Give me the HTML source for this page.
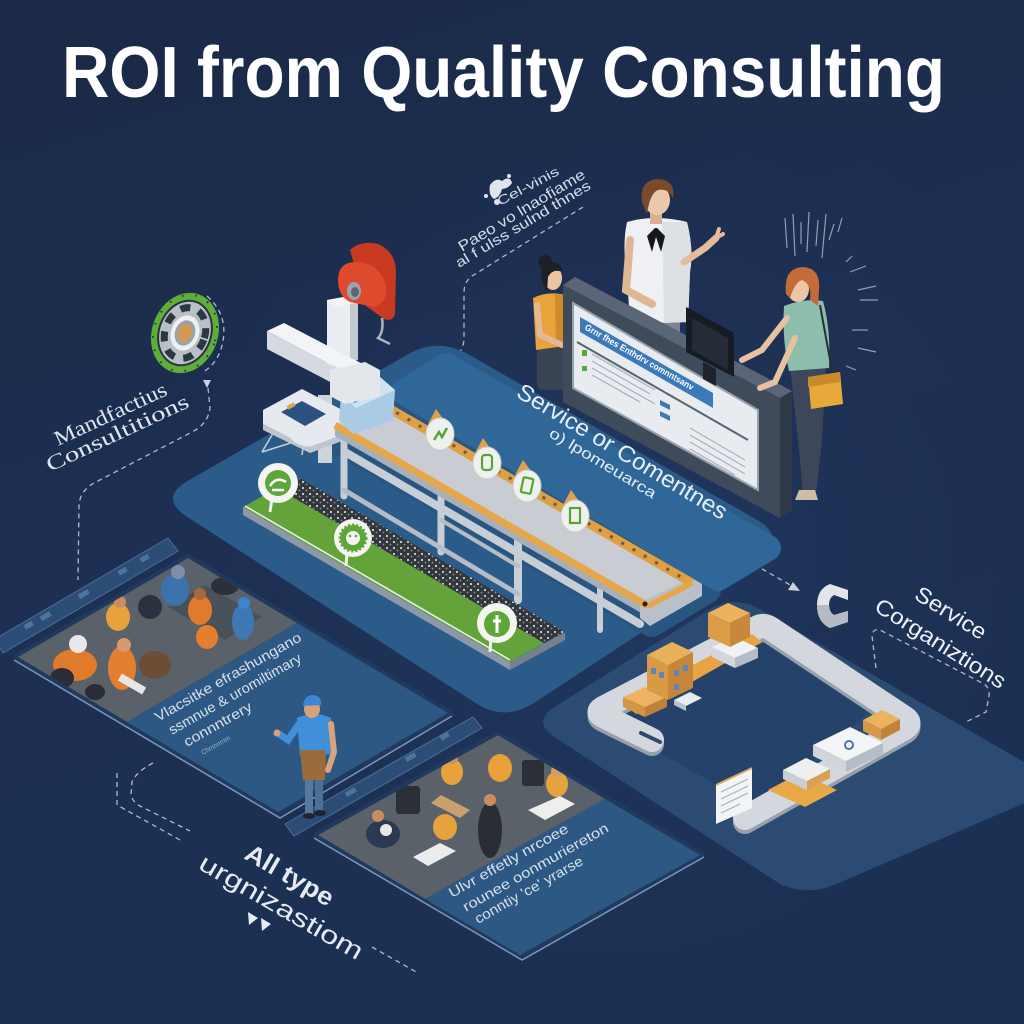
<!DOCTYPE html>
<html><head><meta charset="utf-8">
<style>html,body{margin:0;padding:0;background:#1b2b4a;}svg{display:block;}</style>
</head><body>
<svg xmlns="http://www.w3.org/2000/svg" width="1024" height="1024" viewBox="0 0 1024 1024" font-family="Liberation Sans, sans-serif">
<defs>
<linearGradient id="bg" x1="0" y1="0" x2="0.3" y2="1">
<stop offset="0" stop-color="#1a2946"/><stop offset="0.5" stop-color="#1d2f52"/><stop offset="1" stop-color="#1c3053"/>
</linearGradient>
<radialGradient id="glow" cx="0.6" cy="0.55" r="0.6"><stop offset="0" stop-color="#254270" stop-opacity="0.45"/><stop offset="1" stop-color="#1b2b4a" stop-opacity="0"/></radialGradient>
<pattern id="peb" width="7" height="6" patternUnits="userSpaceOnUse"><rect width="7" height="6" fill="#33363b"/><circle cx="2" cy="2" r="1.1" fill="#cfd3d7"/><circle cx="5.5" cy="4.5" r="0.9" fill="#8e949a"/></pattern>
<clipPath id="ph1"><polygon points="188,558 297,623 127,722 18,657"/></clipPath>
<clipPath id="ph2"><polygon points="498,735 605,799 425,899 318,835"/></clipPath>
</defs>
<rect width="1024" height="1024" fill="url(#bg)"/>
<rect width="1024" height="1024" fill="url(#glow)"/>

<!-- Title -->
<text x="62" y="97" font-size="72" font-weight="bold" fill="#ffffff" textLength="883" lengthAdjust="spacingAndGlyphs">ROI from Quality Consulting</text>

<!-- background dashed connectors -->
<g fill="none" stroke="#c9d2de" stroke-width="1.3" stroke-dasharray="5 4" opacity="0.85">
 <path d="M583,207 L472,276 Q464,282 464,292 L464,338 Q464,350 454,358 L418,392"/>
 <path d="M207,296 Q232,318 220,352 Q214,366 203,372"/>
 <path d="M208,388 L210,408 Q208,424 192,432 L96,482 Q80,490 79,505 L78,580"/>
 <path d="M715,542 L792,586"/>
 <path d="M876,668 L872,636 Q873,627 882,631 L984,684 Q990,688 989,696 L986,712 L966,722"/>
 <path d="M153,763 Q136,772 132,782 L131,795 Q133,803 142,807 L190,831"/>
 <path d="M117,773 L117,805 L180,840"/>
 <path d="M372,947 L418,973"/>
</g>
<polygon points="800,591 788,590 793,582" fill="#c9d2de"/>
<polygon points="203,380 211,380 207,388" fill="#c9d2de"/>

<!-- splash lines -->
<g stroke="#b9c4d2" stroke-width="1.2" opacity="0.75">
 <line x1="785" y1="218" x2="787" y2="248"/><line x1="793" y1="214" x2="795" y2="256"/>
 <line x1="801" y1="222" x2="801" y2="244"/><line x1="809" y1="212" x2="807" y2="252"/>
 <line x1="818" y1="220" x2="816" y2="246"/><line x1="826" y1="214" x2="822" y2="258"/>
 <line x1="834" y1="224" x2="829" y2="240"/><line x1="842" y1="218" x2="838" y2="232"/>
 <line x1="846" y1="262" x2="852" y2="256"/><line x1="850" y1="272" x2="866" y2="266"/>
 <line x1="858" y1="290" x2="876" y2="286"/><line x1="860" y1="300" x2="878" y2="300"/>
 <line x1="852" y1="330" x2="868" y2="330"/><line x1="858" y1="348" x2="876" y2="352"/>
 <line x1="846" y1="366" x2="856" y2="370"/>
</g>

<!-- top-center annotation -->
<g fill="#dfe5ee"><path d="M490,185 q6,-8 12,-4 q8,-6 10,2 q-4,6 -10,6 q-2,8 -8,10 q-6,-4 -4,-14z"/><circle cx="497" cy="202" r="3"/><circle cx="486" cy="196" r="2"/><circle cx="509" cy="176" r="2"/></g>
<g fill="#d5dde8">
<text transform="translate(500,206) rotate(-28)" font-size="13" textLength="68" lengthAdjust="spacingAndGlyphs">Cel-vinis</text>
<text transform="translate(462,252) rotate(-31)" font-size="15" textLength="145" lengthAdjust="spacingAndGlyphs">Paeo vo lnaofiame</text>
<text transform="translate(459,268) rotate(-31)" font-size="14" textLength="155" lengthAdjust="spacingAndGlyphs">al f ulss sulnd thnes</text>
</g>

<!-- gear icon -->
<g transform="rotate(20 185 333)">
 <ellipse cx="185" cy="333" rx="33" ry="41" fill="#5fae3a"/>
 <ellipse cx="185" cy="333" rx="31" ry="39" fill="none" stroke="#25303d" stroke-width="2" stroke-dasharray="1.5 12"/>
 <ellipse cx="185" cy="333" rx="27" ry="34" fill="#2a3340"/>
 <ellipse cx="185" cy="333" rx="25" ry="32" fill="#b9c0c8"/>
 <ellipse cx="185" cy="333" rx="20" ry="26" fill="none" stroke="#2e3744" stroke-width="7" stroke-dasharray="10 9"/>
 <ellipse cx="185" cy="333" rx="14" ry="18" fill="#eef0f3"/>
 <ellipse cx="185" cy="333" rx="10" ry="13" fill="#9aa3ad"/>
 <ellipse cx="185" cy="333" rx="7" ry="9" fill="#d49a55"/>
</g>
<g fill="#dfe5ee" font-family="Liberation Serif, serif">
<text transform="translate(58,446) rotate(-25)" font-size="21" textLength="122" lengthAdjust="spacingAndGlyphs">Mandfactius</text>
<text transform="translate(50,472) rotate(-25)" font-size="21" textLength="155" lengthAdjust="spacingAndGlyphs">Consultitions</text>
</g>

<!-- top platform -->
<path d="M188.3,480.6 L407.7,354.4 Q438,337 468.4,354.4 L756.6,519.6 Q787,537 757.7,556.2 L534.3,702.8 Q505,722 475.6,703 L187.4,517 Q158,498 188.3,480.6 Z" fill="#2b5c89"/>
<polygon points="335,440 392,408 708,590 652,624" fill="#285681" stroke="#285681" stroke-width="26" stroke-linejoin="round"/>
<polygon points="404,392 446,366 768,548 718,578" fill="#2f6898" stroke="#2f6898" stroke-width="26" stroke-linejoin="round"/>

<!-- service text on platform -->
<g fill="#e8eef5">
<text transform="translate(515,396) rotate(31)" font-size="23" textLength="241" lengthAdjust="spacingAndGlyphs">Service or Comentnes</text>
<text transform="translate(548,436) rotate(31)" font-size="15" textLength="122" lengthAdjust="spacingAndGlyphs">o) lpomeuarca</text>
</g>

<!-- green strip -->
<polygon points="243,507 510,662 510,670 243,515" fill="#8d98a6"/>
<polygon points="510,662 565,632 565,640 510,670" fill="#76808e"/>
<polygon points="243,507 510,662 544,643 277,488" fill="#63a33a"/>
<polygon points="277,488 544,643 565,632 298,477" fill="url(#peb)"/>
<line x1="245" y1="506" x2="510" y2="660" stroke="#eef3e6" stroke-width="1.5"/>

<!-- machine lower parts -->
<rect x="318" y="395" width="14" height="68" fill="#cfd4db"/>
<g stroke="#c8cfd8" stroke-width="1.5" fill="none"><line x1="275" y1="430" x2="262" y2="452"/><line x1="262" y1="452" x2="300" y2="440"/><line x1="305" y1="432" x2="302" y2="455"/></g>
<path d="M263,410 L302,389 L350,414 L350,432 L310,447 Q296,446 290,438 L263,424 Z" fill="#e6e9ee"/>
<path d="M263,424 L290,438 Q296,446 310,447 L350,432 L350,438 L310,453 L263,430Z" fill="#bfc6cf"/>
<polygon points="281,412 302,401 326,414 305,426" fill="#2b5180"/>
<rect x="287" y="404" width="8" height="4" fill="#d9a54b" transform="rotate(-28 291 406)"/>

<!-- conveyor frame -->
<g stroke="#c8ced6" stroke-linecap="round">
 <line x1="344" y1="430" x2="344" y2="496" stroke-width="7"/>
 <line x1="441" y1="486" x2="441" y2="552" stroke-width="7"/>
 <line x1="518" y1="532" x2="518" y2="600" stroke-width="8"/>
 <line x1="600" y1="580" x2="600" y2="630" stroke-width="6"/>
 <line x1="345" y1="452" x2="640" y2="624" stroke-width="8"/>
 <line x1="344" y1="490" x2="518" y2="594" stroke-width="5" stroke="#b5bcc6"/>
 <line x1="441" y1="520" x2="518" y2="566" stroke-width="4" stroke="#b5bcc6"/>
</g>
<!-- belt -->
<polygon points="335,425 648,606 648,617 335,436" fill="#a7afba"/>
<polygon points="335,425 648,606 692,583 378,402" fill="#c9cdd3"/>
<polygon points="640,602 692,578 702,584 702,596 650,626 640,618" fill="#b9c0c9"/>
<line x1="335" y1="425" x2="648" y2="606" stroke="#e6a64a" stroke-width="7"/>
<line x1="378" y1="402" x2="692" y2="583" stroke="#dea043" stroke-width="9"/>
<line x1="385" y1="406" x2="688" y2="581" stroke="#6b5a42" stroke-width="3" stroke-dasharray="3 10"/>
<line x1="648" y1="606" x2="692" y2="583" stroke="#e6a64a" stroke-width="6"/>
<circle cx="645" cy="604" r="2.5" fill="#222"/>

<!-- machine upper parts -->
<polygon points="341,395 380,377 395,390 393,420 353,434 339,420" fill="#a9cbe3"/>
<polygon points="341,395 380,377 395,390 356,408" fill="#cfe2f0"/>
<polygon points="350,398 372,388 376,393 354,403" fill="#34608f"/>
<polygon points="327,300 350,296 350,362 327,366" fill="#e9ecf0"/>
<polygon points="350,296 358,300 358,360 350,362" fill="#c3c9d1"/>
<polygon points="327,300 365,293 372,300 334,307" fill="#f3f5f7"/>
<polygon points="267,331 284,323 378,372 361,381" fill="#f2f4f6"/>
<polygon points="267,331 361,381 361,398 267,349" fill="#d5dae1"/>
<polygon points="330,370 365,362 380,370 380,396 345,404 330,396" fill="#e3e7ec"/>
<!-- red horn -->
<path d="M350,250 Q360,240 378,244 Q396,252 396,272 L395,314 Q393,322 384,319 L366,306 Z" fill="#c93a22"/>
<path d="M338,280 Q338,262 356,262 Q378,262 386,285 Q388,303 374,307 L350,302 Q338,296 338,280Z" fill="#e04a2c"/>
<ellipse cx="354" cy="291" rx="7" ry="9" fill="#9aa4ae"/>
<ellipse cx="355" cy="292" rx="4" ry="5" fill="#5d6670"/>
<path d="M382,318 Q384,332 378,338 L390,344" stroke="#aab2bd" stroke-width="2.5" fill="none"/>

<!-- conveyor bubbles -->
<g>
 <polygon points="428,424 436,409 444,420" fill="#e2a04c"/><ellipse cx="440" cy="434" rx="14" ry="16" fill="#eff1ee" stroke="#c9ccc8"/>
 <path d="M434,440 L439,432 L442,437 L447,428" stroke="#58a336" stroke-width="2.5" fill="none"/>
 <polygon points="475,453 483,438 491,449" fill="#e2a04c"/><ellipse cx="487" cy="463" rx="14" ry="16" fill="#eff1ee" stroke="#c9ccc8"/>
 <rect x="482" y="455" width="10" height="15" rx="3" fill="none" stroke="#58a336" stroke-width="2.2"/>
 <polygon points="515,475 523,460 531,471" fill="#e2a04c"/><ellipse cx="527" cy="486" rx="14" ry="16" fill="#eff1ee" stroke="#c9ccc8"/>
 <rect x="522" y="478" width="10" height="15" rx="1" fill="none" stroke="#58a336" stroke-width="2.2" transform="rotate(12 527 486)"/>
 <polygon points="563,505 571,490 579,501" fill="#e2a04c"/><ellipse cx="575" cy="516" rx="14" ry="16" fill="#eff1ee" stroke="#c9ccc8"/>
 <rect x="570" y="508" width="10" height="15" fill="none" stroke="#58a336" stroke-width="2.2"/>
</g>
<!-- green strip bubbles -->
<g>
 <line x1="272" y1="498" x2="270" y2="512" stroke="#f2f4f2" stroke-width="3"/>
 <circle cx="278" cy="483" r="20" fill="#f4f5f3"/>
 <circle cx="278" cy="483" r="13" fill="#5ca63a"/><path d="M270,486 Q276,476 286,482 M272,490 L284,490" stroke="#fff" stroke-width="2.5" fill="none"/>
 <line x1="347" y1="553" x2="346" y2="566" stroke="#f2f4f2" stroke-width="3"/>
 <circle cx="353" cy="538" r="19" fill="#f4f5f3"/>
 <circle cx="353" cy="538" r="13" fill="#5ca63a" stroke="#5ca63a" stroke-width="3" stroke-dasharray="2 2"/>
 <circle cx="353" cy="538" r="7" fill="#f4f5f3"/><circle cx="350" cy="536" r="1.3" fill="#5ca63a"/><circle cx="356" cy="536" r="1.3" fill="#5ca63a"/>
 <line x1="491" y1="638" x2="490" y2="652" stroke="#f2f4f2" stroke-width="3"/>
 <circle cx="497" cy="623" r="20" fill="#f4f5f3"/>
 <circle cx="497" cy="624" r="13" fill="#5ca63a"/><path d="M497,615 L497,633 M493,621 L501,621" stroke="#fff" stroke-width="3"/>
</g>

<!-- people behind kiosk -->
<g>
<path d="M664,318 L680,318 L680,335 L664,335Z" fill="#7d838c"/>
<path d="M627,222 Q655,214 687,222 Q694,250 690,272 L688,322 L630,324 L627,275 Q622,245 627,222Z" fill="#eef0f3"/>
<path d="M662,222 L687,222 Q694,250 690,272 L688,322 L664,323Z" fill="#dde1e6"/>
<rect x="650" y="208" width="12" height="16" fill="#d9b090"/>
<ellipse cx="657" cy="200" rx="13" ry="15" fill="#ecc8aa"/>
<path d="M642,202 Q639,180 658,179 Q676,180 673,198 Q668,188 658,190 Q650,193 647,214 Z" fill="#7b4a2b"/>
<path d="M655,228 L647,236 L652,252 L656,237 L661,252 L665,236 L657,228Z" fill="#15171c"/>
<path d="M684,262 L705,248 L716,238" stroke="#e5bd9c" stroke-width="7" fill="none" stroke-linecap="round"/>
<path d="M716,238 L719,229 M716,238 L723,234" stroke="#e5bd9c" stroke-width="4" stroke-linecap="round"/>
<path d="M630,240 L626,290 L652,304" stroke="#e0b796" stroke-width="8" fill="none" stroke-linecap="round"/>
</g>
<g>
<rect x="537" y="340" width="32" height="50" rx="6" fill="#3b4454"/>
<path d="M533,298 Q550,290 568,296 L572,345 L536,350Z" fill="#e9a33c"/>
<path d="M555,294 L568,296 L572,345 L556,347Z" fill="#d08a2c"/>
<ellipse cx="553" cy="278" rx="9" ry="12" fill="#ebc4a4"/>
<path d="M543,284 Q537,262 552,262 Q563,263 562,272 Q553,268 548,277 L547,292Z" fill="#1e2028"/>
<circle cx="545" cy="262" r="7" fill="#1e2028"/>
<path d="M537,305 L540,335 L562,345" stroke="#e3b895" stroke-width="6" fill="none" stroke-linecap="round"/>
</g>

<!-- kiosk -->
<polygon points="563,285 575,277 792,391 792,510 780,518 563,402" fill="#2f3847"/>
<polygon points="563,285 575,277 792,391 780,398" fill="#5a6577"/>
<polygon points="563,285 780,398 780,518 563,402" fill="#3f4a5b"/>
<polygon points="573,303 758,410 758,490 573,388" fill="#e8ecf0" stroke="#98a2ae" stroke-width="2"/>
<polygon points="580,317 713,393 713,408 580,332" fill="#3b79b8"/>
<text transform="translate(584,329) rotate(29.7)" font-size="9" font-weight="bold" fill="#ffffff" textLength="124" lengthAdjust="spacingAndGlyphs">Grnr fhes Enthdrv comnntsanv</text>
<line x1="577" y1="342" x2="748" y2="440" stroke="#5a626e" stroke-width="2"/>
<g stroke="#a9b0b9" stroke-width="1.2">
 <line x1="592" y1="354" x2="655" y2="390"/><line x1="592" y1="361" x2="650" y2="394"/>
 <line x1="592" y1="368" x2="655" y2="404"/><line x1="592" y1="375" x2="640" y2="402"/>
 <line x1="690" y1="428" x2="745" y2="460"/><line x1="690" y1="435" x2="745" y2="467"/>
 <line x1="690" y1="442" x2="745" y2="474"/><line x1="690" y1="449" x2="735" y2="475"/>
</g>
<rect x="582" y="350" width="5" height="6" fill="#5ca63a"/>
<rect x="582" y="366" width="5" height="5" fill="#5ca63a"/>
<polygon points="660,400 670,405 670,410 660,405" fill="#3b79b8"/>
<polygon points="660,411 670,416 670,421 660,416" fill="#3b79b8"/>
<polygon points="686,307 734,333 734,377 686,352" fill="#171b24"/>
<polygon points="692,318 728,338 728,370 692,350" fill="#252b37"/>
<polygon points="703,362 716,369 716,386 703,379" fill="#1d222c"/>

<!-- teal woman -->
<g>
<path d="M790,366 L826,364 L822,440 L816,492 L803,493 L798,440Z" fill="#3d4759"/>
<path d="M799,490 L815,490 L818,500 L795,500Z" fill="#cdbda6"/>
<path d="M784,306 Q805,298 823,301 Q831,330 829,368 L789,371 Q782,340 784,306Z" fill="#8dbdab"/>
<ellipse cx="798" cy="289" rx="11" ry="13" fill="#ecc6a6"/>
<path d="M786,294 Q783,268 803,267 Q821,268 819,290 L818,306 L810,300 Q812,284 802,280 Q795,282 790,298Z" fill="#c46b3b"/>
<path d="M787,318 L762,350 L742,360" stroke="#e8c1a0" stroke-width="6" fill="none" stroke-linecap="round"/>
<path d="M795,338 L775,382 L760,388" stroke="#e8c1a0" stroke-width="6" fill="none" stroke-linecap="round"/>
<line x1="820" y1="305" x2="833" y2="376" stroke="#2a2d33" stroke-width="2"/>
<polygon points="808,377 840,372 843,404 811,409" fill="#e9a93a"/>
<polygon points="808,377 840,372 840,382 808,387" fill="#c88a2b"/>
</g>

<!-- bottom-right platform -->
<path d="M556,706 L707,611 Q733,594 759,609 L1050,777 L1050,792 L834,885 Q807,896 780,884 L556,738 Q530,722 556,706 Z" fill="#2b4b73"/>
<polygon points="620,722 757,645 858,712 757,800" fill="#25426a" stroke="#25426a" stroke-width="14" stroke-linejoin="round"/>
<!-- track -->
<path d="M652,740 L603,716 Q596,712 603,708 L756,628 Q763,624 770,628 L905,718 Q912,723 905,728 L745,818" fill="none" stroke="#97a1ad" stroke-width="24" stroke-linecap="round" stroke-linejoin="round" transform="translate(0,4)"/>
<path d="M652,740 L603,716 Q596,712 603,708 L756,628 Q763,624 770,628 L905,718 Q912,723 905,728 L745,818" fill="none" stroke="#d4d8de" stroke-width="24" stroke-linecap="round" stroke-linejoin="round"/>
<line x1="641" y1="733" x2="660" y2="742" stroke="#30486a" stroke-width="4" stroke-linecap="round"/>
<polygon points="622,702 752,634 762,642 636,714" fill="#e8a444"/>
<!-- boxes -->
<polygon points="623,697 645,687 667,697 645,707" fill="#ecb462"/><polygon points="623,697 645,707 645,717 623,707" fill="#d49445"/><polygon points="645,707 667,697 667,707 645,717" fill="#bf8038"/>
<polygon points="647,655 672,642 693,652 668,665" fill="#e9b05a"/><polygon points="647,655 668,665 668,700 647,690" fill="#d99a45"/><polygon points="668,665 693,652 693,688 668,700" fill="#c5853a"/>
<g fill="#5e86b8"><rect x="651" y="668" width="5" height="6"/><rect x="659" y="672" width="5" height="6"/><rect x="674" y="670" width="5" height="6"/><rect x="683" y="665" width="5" height="6"/><rect x="674" y="684" width="5" height="6"/></g>
<polygon points="674,700 690,692 702,698 686,706" fill="#e8ecf0"/><polygon points="674,700 686,706 686,711 674,705" fill="#b9c1ca"/>
<polygon points="712,647 735,637 758,648 735,658" fill="#f0f1f3"/><polygon points="712,647 735,658 735,668 712,657" fill="#d3d7dc"/><polygon points="735,658 758,648 758,658 735,668" fill="#b5bcc5"/>
<polygon points="708,613 728,603 750,613 730,623" fill="#ebb260"/><polygon points="708,613 730,623 730,647 708,637" fill="#dc9c48"/><polygon points="730,623 750,613 750,637 730,647" fill="#c7873c"/>
<polygon points="863,720 882,710 900,719 881,729" fill="#ecb35f"/><polygon points="863,720 881,729 881,740 863,731" fill="#d7984a"/><polygon points="881,729 900,719 900,730 881,740" fill="#c1833b"/>
<polygon points="768,790 800,773 837,790 805,807" fill="#e9a848"/>
<polygon points="813,745 850,727 883,743 846,761" fill="#f3f4f6"/><polygon points="813,745 846,761 846,772 813,756" fill="#d0d5db"/><polygon points="846,761 883,743 883,754 846,772" fill="#b4bcc6"/>
<circle cx="849" cy="745" r="4" fill="none" stroke="#3a6aa8" stroke-width="1.8"/>
<polygon points="783,770 806,758 830,769 807,781" fill="#eeeff1"/><polygon points="783,770 807,781 807,790 783,779" fill="#c9ced5"/><polygon points="807,781 830,769 830,778 807,790" fill="#d8a050"/>
<polygon points="716,785 752,768 752,808 716,824" fill="#f3f4f6"/>
<line x1="716" y1="785" x2="752" y2="768" stroke="#e0a85a" stroke-width="2"/>
<g stroke="#a9b0b9" stroke-width="1.2"><line x1="721" y1="792" x2="748" y2="779"/><line x1="721" y1="799" x2="748" y2="786"/><line x1="721" y1="806" x2="748" y2="793"/><line x1="721" y1="813" x2="740" y2="804"/></g>

<!-- C icon -->
<path d="M848,590 L830,584 Q817,589 817,605 Q817,622 830,628 L848,622 L848,611 L834,615 Q829,612 829,605 Q829,598 834,595 L848,600 Z" fill="#e2e5ea"/>
<path d="M817,605 Q817,622 830,628 L848,622 L848,611 L834,615 Q829,612 829,605Z" fill="#b4bbc5"/>

<!-- Service Corganiztions -->
<g fill="#eef2f7">
<text transform="translate(913,598) rotate(32)" font-size="22" textLength="80" lengthAdjust="spacingAndGlyphs">Service</text>
<text transform="translate(873,610) rotate(32)" font-size="22" textLength="150" lengthAdjust="spacingAndGlyphs">Corganiztions</text>
</g>

<!-- card 1 -->
<polygon points="168,538 178,551 3,653 -5,639" fill="#2b4c75" stroke="#4d6e96" stroke-width="1"/>
<g fill="#4f739c">
<rect x="140" y="556" width="9" height="5" transform="rotate(-30 144 558)"/>
<rect x="118" y="569" width="9" height="5" transform="rotate(-30 122 571)"/>
<rect x="78" y="592" width="11" height="5" transform="rotate(-30 83 594)"/>
<rect x="40" y="614" width="11" height="5" transform="rotate(-30 45 616)"/>
<rect x="24" y="623" width="9" height="5" transform="rotate(-30 28 625)"/>
</g>
<polygon points="188,558 448,713 278,812 18,657" fill="#203a5e" stroke="#203a5e" stroke-width="8" stroke-linejoin="round"/>
<polyline points="452,716 280,818 14,660" fill="none" stroke="#7f97b5" stroke-width="1.5"/>
<g clip-path="url(#ph1)">
<polygon points="188,558 297,623 127,722 18,657" fill="#5a6169"/>
<polygon points="205,585 262,617 225,640 168,607" fill="#4b5159"/>
<ellipse cx="75" cy="665" rx="22" ry="16" fill="#e07b2c"/>
<ellipse cx="62" cy="678" rx="12" ry="10" fill="#2a2d35"/>
<circle cx="78" cy="644" r="9" fill="#e8e8ea"/>
<ellipse cx="122" cy="668" rx="14" ry="22" fill="#e27f30"/>
<circle cx="124" cy="645" r="7" fill="#d59a70"/>
<ellipse cx="118" cy="617" rx="12" ry="14" fill="#e6a23c"/>
<circle cx="120" cy="602" r="6" fill="#c98d62"/>
<ellipse cx="150" cy="607" rx="12" ry="12" fill="#2c3140"/>
<ellipse cx="175" cy="590" rx="14" ry="16" fill="#3d73ad"/>
<circle cx="178" cy="572" r="7" fill="#7d8fa8"/>
<ellipse cx="200" cy="610" rx="12" ry="15" fill="#e07b2c"/>
<circle cx="200" cy="594" r="6" fill="#a8683e"/>
<ellipse cx="207" cy="637" rx="11" ry="12" fill="#e47f30"/>
<ellipse cx="243" cy="622" rx="11" ry="18" fill="#3e78b3"/>
<circle cx="244" cy="603" r="6" fill="#3a85d0"/>
<ellipse cx="225" cy="586" rx="14" ry="9" fill="#2c3038"/>
<ellipse cx="155" cy="665" rx="16" ry="14" fill="#6b4e35"/>
<rect x="118" y="680" width="28" height="8" fill="#e6e6e6" transform="rotate(30 132 684)"/>
<ellipse cx="95" cy="692" rx="10" ry="8" fill="#2a2d35"/>
</g>
<polygon points="297,623 448,713 278,812 127,722" fill="#2d5883"/>
<g fill="#d6e0ea">
<text transform="translate(158,722) rotate(-29.5)" font-size="14" textLength="166" lengthAdjust="spacingAndGlyphs">Vlacsitke efrashungano</text>
<text transform="translate(172,735) rotate(-29.5)" font-size="14" textLength="150" lengthAdjust="spacingAndGlyphs">ssmnue &amp; uromiltimary</text>
<text transform="translate(187,747) rotate(-29.5)" font-size="14" textLength="76" lengthAdjust="spacingAndGlyphs">connntrery</text>
<text transform="translate(203,755) rotate(-29.5)" font-size="7" fill="#9fb2c8" textLength="32" lengthAdjust="spacingAndGlyphs">Chrnnnrnrn</text>
</g>

<!-- card 2 -->
<polygon points="473,717 482,728 294,836 285,824" fill="#2b4c75" stroke="#4d6e96" stroke-width="1"/>
<g fill="#4f739c">
<rect x="440" y="734" width="9" height="5" transform="rotate(-30 444 736)"/>
<rect x="405" y="755" width="11" height="5" transform="rotate(-30 410 757)"/>
<rect x="345" y="790" width="11" height="5" transform="rotate(-30 350 792)"/>
</g>
<polygon points="498,735 700,855 520,955 318,835" fill="#203a5e" stroke="#203a5e" stroke-width="8" stroke-linejoin="round"/>
<polyline points="704,857 522,960 314,838" fill="none" stroke="#7f97b5" stroke-width="1.5"/>
<g clip-path="url(#ph2)">
<polygon points="498,735 605,799 425,899 318,835" fill="#5a6169"/>
<ellipse cx="452" cy="772" rx="11" ry="13" fill="#e6a23c"/>
<circle cx="452" cy="758" r="6" fill="#c98d62"/>
<ellipse cx="500" cy="768" rx="12" ry="14" fill="#e8a13a"/>
<ellipse cx="557" cy="784" rx="11" ry="13" fill="#e6a23c"/>
<circle cx="557" cy="771" r="6" fill="#d39a6a"/>
<rect x="396" y="786" width="24" height="28" rx="3" fill="#2b2f38"/>
<rect x="522" y="760" width="22" height="26" rx="3" fill="#2b2f38"/>
<ellipse cx="383" cy="834" rx="17" ry="14" fill="#2a3954"/>
<circle cx="386" cy="830" r="6" fill="#e8e8e8"/>
<circle cx="378" cy="816" r="6" fill="#c98d62"/>
<ellipse cx="445" cy="827" rx="12" ry="13" fill="#e6a23c"/>
<ellipse cx="490" cy="830" rx="12" ry="28" fill="#2a2d34"/>
<circle cx="490" cy="800" r="6" fill="#c98d62"/>
<polygon points="441,795 470,810 460,818 431,803" fill="#c9a070"/>
<polygon points="528,810 560,796 575,804 545,820" fill="#eeeeee"/>
<polygon points="413,857 440,843 456,851 428,866" fill="#ececec"/>
</g>
<polygon points="605,799 700,855 520,955 425,899" fill="#2d5883"/>
<g fill="#d6e0ea">
<text transform="translate(452,898) rotate(-29.5)" font-size="14" textLength="135" lengthAdjust="spacingAndGlyphs">Ulvr effetly nrcoee</text>
<text transform="translate(466,912) rotate(-29.5)" font-size="14" textLength="165" lengthAdjust="spacingAndGlyphs">rounee oonmuriereton</text>
<text transform="translate(478,924) rotate(-29.5)" font-size="14" textLength="122" lengthAdjust="spacingAndGlyphs">conntiy 'ce' yrarse</text>
</g>

<!-- man in blue -->
<g>
<rect x="305" y="778" width="8" height="36" fill="#58799f"/>
<rect x="315" y="778" width="8" height="33" fill="#4e6f95"/>
<ellipse cx="309" cy="816" rx="6" ry="3" fill="#1f2330"/>
<ellipse cx="320" cy="813" rx="6" ry="3" fill="#1f2330"/>
<path d="M297,718 Q314,710 331,718 L334,754 L300,756Z" fill="#3f8fd9"/>
<polygon points="300,750 326,750 325,780 303,780" fill="#9c6b3c"/>
<path d="M299,724 L288,740 L279,734" stroke="#3f8fd9" stroke-width="7" fill="none" stroke-linecap="round"/>
<path d="M331,724 L334,752 L328,770" stroke="#d9a27a" stroke-width="6" fill="none" stroke-linecap="round"/>
<circle cx="277" cy="733" r="3.5" fill="#d9a27a"/>
<ellipse cx="312" cy="709" rx="8" ry="9" fill="#d7a27a"/>
<path d="M303,706 Q304,695 313,695 Q322,696 321,705Z" fill="#3a88d4"/>
</g>

<!-- All type organization -->
<g fill="#e6ebf2">
<text transform="translate(243,858) rotate(30)" font-size="25" font-weight="bold" textLength="98" lengthAdjust="spacingAndGlyphs">All type</text>
<text transform="translate(197,868) rotate(30)" font-size="25" textLength="185" lengthAdjust="spacingAndGlyphs">urgnizastiom</text>
<polygon points="248,912 258,918 249,925"/>
<polygon points="261,918 271,924 262,931"/>
</g>
</svg>
</body></html>
